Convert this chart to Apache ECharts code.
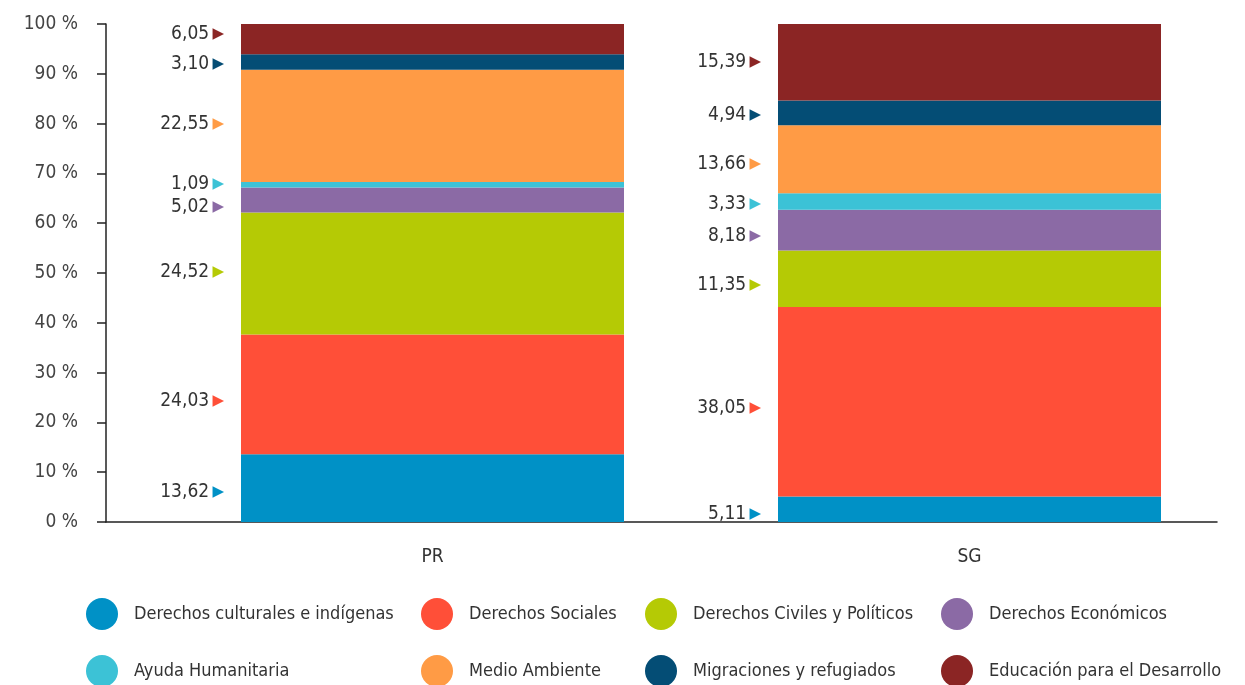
<!DOCTYPE html>
<html><head><meta charset="utf-8">
<script src="https://cdn.jsdelivr.net/npm/echarts@6/dist/echarts.min.js"></script>
<style>html,body{margin:0;padding:0;background:#fff}#c{width:1245px;height:685px}</style>
</head><body><div id="c"></div>
<script>
var categories = ['PR', 'SG'];
var yTicks = [0, 10, 20, 30, 40, 50, 60, 70, 80, 90, 100];
var seriesNames = ['Derechos culturales e indígenas', 'Derechos Sociales', 'Derechos Civiles y Políticos', 'Derechos Económicos', 'Ayuda Humanitaria', 'Medio Ambiente', 'Migraciones y refugiados', 'Educación para el Desarrollo'];
var culturales = [13.62, 5.11];
var sociales = [24.03, 38.05];
var civiles = [24.52, 11.35];
var economicos = [5.02, 8.18];
var ayuda = [1.09, 3.33];
var medio = [22.55, 13.66];
var migraciones = [3.10, 4.94];
var educacion = [6.05, 15.39];
var colors = ['#0091c6', '#ff4f38', '#b5ca05', '#8b6aa5', '#3cc2d6', '#ff9b45', '#044d75', '#8b2524'];
// vertical nudges of the value labels (style only), per series: [PR, SG]
var labelNudge = [[4, 5], [7, 6], [-1, 6], [7, 6], [-1, 3], [-2, 5], [2, 2], [-5, 0]];

var FONT = "'DejaVu Sans Condensed','DejaVu Sans',sans-serif";
var values = [culturales, sociales, civiles, economicos, ayuda, medio, migraciones, educacion];

var series = values.map(function (arr, i) {
  return {
    name: seriesNames[i], type: 'bar', stack: 'total', xAxisIndex: 0, yAxisIndex: 0,
    barWidth: 383, itemStyle: { color: colors[i] },
    data: arr.map(function (v, j) {
      return { value: v, label: { offset: [0, labelNudge[i][j]] } };
    }),
    label: {
      show: true, position: 'left', distance: 17,
      formatter: function (p) { return '{v|' + p.value.toFixed(2).replace('.', ',') + '} {t|▶}'; },
      rich: {
        v: { fontFamily: FONT, fontSize: 19, color: '#333' },
        t: { fontFamily: 'DejaVu Sans', fontSize: 15, color: colors[i] }
      }
    }
  };
});
series.push({ type: 'bar', xAxisIndex: 1, yAxisIndex: 1, data: [], silent: true });

var legendCols = [[0, 4], [1, 5], [2, 6], [3, 7]];
var legendLeft = [86, 421, 645, 941];
var legends = legendCols.map(function (col, k) {
  return {
    orient: 'vertical', left: legendLeft[k], top: 598, height: 120, padding: 0, itemGap: 25,
    itemWidth: 32, itemHeight: 32, icon: 'circle', selectedMode: false,
    data: col.map(function (i) { return seriesNames[i]; }),
    textStyle: { fontFamily: FONT, fontSize: 18, color: '#333', padding: [2, 0, 0, 11] }
  };
});

var chart = echarts.init(document.getElementById('c'), null, { renderer: 'canvas' });
chart.setOption({
  animation: false,
  color: colors,
  legend: legends,
  grid: [
    { left: 164, right: 7, top: 24, bottom: 163 },
    { left: 106, right: 28, top: 24, bottom: 163 }
  ],
  xAxis: [
    { type: 'category', gridIndex: 0, data: categories,
      axisLine: { show: false }, axisTick: { show: false },
      axisLabel: { fontFamily: FONT, fontSize: 19, color: '#333', margin: 26 } },
    { type: 'category', gridIndex: 1, data: [''],
      axisLine: { show: true, lineStyle: { color: '#222', width: 1.5 } },
      axisTick: { show: false }, axisLabel: { show: false } }
  ],
  yAxis: [
    { type: 'value', gridIndex: 0, min: yTicks[0], max: yTicks[yTicks.length - 1], interval: 10, offset: 58,
      splitLine: { show: false },
      axisLine: { show: true, lineStyle: { color: '#222', width: 1.5 } },
      axisTick: { show: true, length: 9, lineStyle: { color: '#222', width: 1.5 } },
      axisLabel: { fontFamily: FONT, fontSize: 19, color: '#444', margin: 28, formatter: '{value} %' } },
    { type: 'value', gridIndex: 1, min: 0, max: 100, show: false }
  ],
  series: series
});
</script></body></html>
